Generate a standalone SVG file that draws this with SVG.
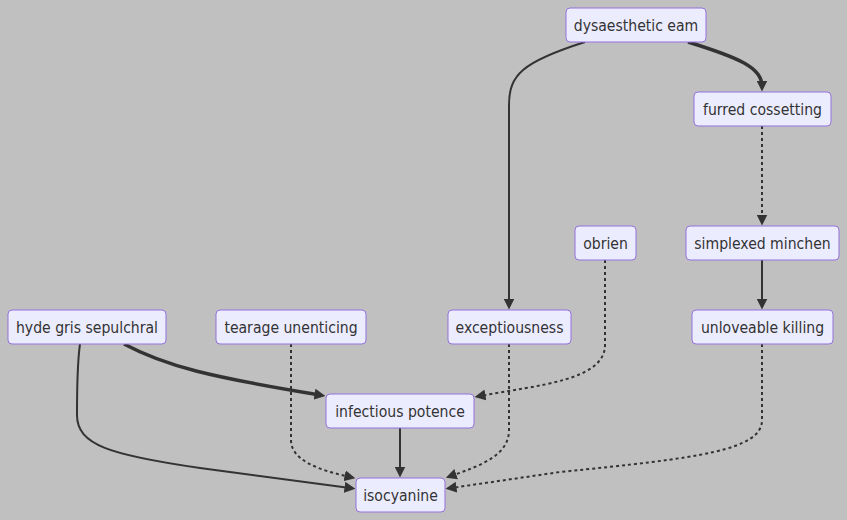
<svg xmlns="http://www.w3.org/2000/svg" width="847" height="520" viewBox="0 0 847 520">
<style>
.node rect{fill:#ECECFF;stroke:#9370DB;stroke-width:1}
.node text{font-family:"DejaVu Sans Condensed","DejaVu Sans",Verdana,sans-serif;font-stretch:condensed;font-size:15.6px;fill:#333;text-anchor:middle}
.e{fill:none;stroke:#333;stroke-width:2}
.thick{stroke-width:3.5}
.dot{stroke-dasharray:3}
</style>
<defs>
<marker id="ah" viewBox="0 0 10 10" refX="5" refY="5" markerWidth="11" markerHeight="11" markerUnits="userSpaceOnUse" orient="auto">
<path d="M0,0 L10,5 L0,10 z" fill="#333"/>
</marker>
</defs>
<rect width="847" height="520" fill="#c0c0c0"/>
<g id="edges">
<path class="e" d="M585,42 C522,62 509,75 509,105 L509,304" marker-end="url(#ah)"/>
<path class="e thick" d="M688,42 C740,58 762,68 762,86" marker-end="url(#ah)"/>
<path class="e dot" d="M762,126 L762,220" marker-end="url(#ah)"/>
<path class="e" d="M762,260 L762,304" marker-end="url(#ah)"/>
<path class="e thick" d="M124,344 C165,366 210,377 320,395" marker-end="url(#ah)"/>
<path class="e" d="M80,344 C77,365 77,395 77,415 C77,445 110,455 200,468 L350,488" marker-end="url(#ah)"/>
<path class="e dot" d="M291,344 L291,440 C291,460 318,470 350,477" marker-end="url(#ah)"/>
<path class="e dot" d="M509,344 L509,430 C509,455 482,465 451,476" marker-end="url(#ah)"/>
<path class="e dot" d="M605,260 L605,345 C605,380 540,385 480,396" marker-end="url(#ah)"/>
<path class="e" d="M400,428 L400,472" marker-end="url(#ah)"/>
<path class="e dot" d="M762,344 L762,420 C762,450 700,458 560,472 L451,488" marker-end="url(#ah)"/>
</g>
<g id="n-dysaesthetic" class="node"><rect x="566" y="8" width="140" height="34" rx="4"/><text x="636" y="30.5">dysaesthetic eam</text></g>
<g id="n-furred" class="node"><rect x="694" y="92" width="137" height="34" rx="4"/><text x="762.5" y="114.5">furred cossetting</text></g>
<g id="n-simplexed" class="node"><rect x="686" y="226" width="153" height="34" rx="4"/><text x="762.5" y="248.5">simplexed minchen</text></g>
<g id="n-obrien" class="node"><rect x="575" y="226" width="61" height="34" rx="4"/><text x="605.5" y="248.5">obrien</text></g>
<g id="n-hyde" class="node"><rect x="8" y="310" width="158" height="34" rx="4"/><text x="87" y="332.5">hyde gris sepulchral</text></g>
<g id="n-tearage" class="node"><rect x="216" y="310" width="150" height="34" rx="4"/><text x="291" y="332.5">tearage unenticing</text></g>
<g id="n-exceptiousness" class="node"><rect x="448" y="310" width="123" height="34" rx="4"/><text x="509.5" y="332.5">exceptiousness</text></g>
<g id="n-unloveable" class="node"><rect x="692" y="310" width="141" height="34" rx="4"/><text x="762.5" y="332.5">unloveable killing</text></g>
<g id="n-infectious" class="node"><rect x="326" y="394" width="148" height="34" rx="4"/><text x="400" y="416.5">infectious potence</text></g>
<g id="n-isocyanine" class="node"><rect x="356" y="478" width="89" height="34" rx="4"/><text x="400.5" y="500.5">isocyanine</text></g>
</svg>
